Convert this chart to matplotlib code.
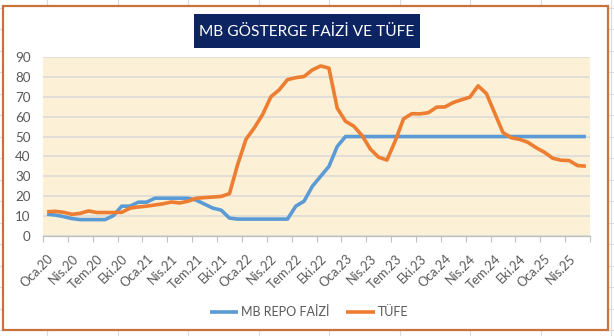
import numpy as np
import matplotlib.pyplot as plt
from matplotlib.patches import Rectangle
from matplotlib.lines import Line2D

plt.rcParams["font.family"] = ["Lato", "DejaVu Sans"]

# monthly series, Oca.20 .. Haz.25
repo = [11.0, 10.5, 9.75, 8.75, 8.25, 8.25, 8.25, 8.25, 10.25, 15.0, 15.0, 17.0,
        17.0, 19.0, 19.0, 19.0, 19.0, 19.0, 18.0, 16.0, 14.0, 13.0, 9.0, 8.5,
        8.5, 8.5, 8.5, 8.5, 8.5, 8.5, 15.0, 17.5, 25.0, 30.0, 35.0, 45.0,
        50.0, 50.0, 50.0, 50.0, 50.0, 50.0, 50.0, 50.0, 50.0, 50.0, 50.0, 50.0,
        50.0, 50.0, 50.0, 50.0, 50.0, 50.0, 50.0, 50.0, 50.0, 50.0, 50.0, 50.0,
        50.0, 50.0, 50.0, 50.0, 50.0, 50.0]
tufe = [12.2, 12.4, 11.9, 10.9, 11.4, 12.6, 11.8, 11.8, 11.8, 11.9, 14.0, 14.6,
        15.0, 15.6, 16.2, 17.1, 16.6, 17.5, 19.0, 19.3, 19.6, 19.9, 21.3, 36.1,
        48.7, 54.4, 61.1, 70.0, 73.5, 78.6, 79.6, 80.2, 83.5, 85.5, 84.4, 64.3,
        57.7, 55.2, 50.5, 43.7, 39.6, 38.2, 47.8, 58.9, 61.5, 61.4, 62.0, 64.8,
        64.9, 67.1, 68.5, 69.8, 75.5, 71.6, 61.8, 52.0, 49.4, 48.6, 47.1, 44.4,
        42.1, 39.1, 38.1, 37.9, 35.4, 35.1]
tick_labels = ["Oca.20", "Nis.20", "Tem.20", "Eki.20", "Oca.21", "Nis.21",
               "Tem.21", "Eki.21", "Oca.22", "Nis.22", "Tem.22", "Eki.22",
               "Oca.23", "Nis.23", "Tem.23", "Eki.23", "Oca.24", "Nis.24",
               "Tem.24", "Eki.24", "Oca.25", "Nis.25"]
y_ticks = list(range(0, 100, 10))

W, H = 614, 336
fig = plt.figure(figsize=(W / 100, H / 100), dpi=100)
fig.patch.set_facecolor("white")


def px(x, y):
    return x / W, 1 - y / H


# worksheet cell lines behind the chart object
for k in range(9):
    xx = (47 + 70.5 * k) / W
    fig.add_artist(Line2D([xx, xx], [0, 1], transform=fig.transFigure,
                          color="#dcdcdc", lw=0.8, zorder=0))
for k in range(-3, 13):
    yy = 1 - (72 + 21.5 * k) / H
    fig.add_artist(Line2D([0, 1], [yy, yy], transform=fig.transFigure,
                          color="#dcdcdc", lw=0.8, zorder=0))

# chart object frame
x0, y0 = px(3, 330)
x1, y1 = px(608, 6)
fig.add_artist(Rectangle((x0, y0), x1 - x0, y1 - y0, transform=fig.transFigure,
                         facecolor="white", edgecolor="#c8733e", lw=1.6, zorder=1))

# title box
bx, by = px(194, 48)
bx2, by2 = px(420, 14)
fig.add_artist(Rectangle((bx, by), bx2 - bx, by2 - by, transform=fig.transFigure,
                         facecolor="#0c2461", edgecolor="none", zorder=2))
tx, ty = px(307, 31.5)
fig.text(tx, ty, "MB GÖSTERGE FAİZİ VE TÜFE", color="white", fontsize=11.2,
         ha="center", va="center", zorder=3)

l, b = px(43, 236)
r, t = px(590, 57)
ax = fig.add_axes([l, b, r - l, t - b])
ax.set_zorder(3)
ax.set_facecolor("#fcf0d7")

x = np.arange(len(repo))
ax.plot(x, repo, color="#5b9bd5", lw=2.6, label="MB REPO FAİZİ",
        solid_joinstyle="round", solid_capstyle="butt", zorder=3)
ax.plot(x, tufe, color="#ed7d31", lw=2.6, label="TÜFE",
        solid_joinstyle="round", solid_capstyle="butt", zorder=4)

ax.set_xlim(-0.5, len(repo) - 0.5)
ax.set_ylim(0, 90)
ax.set_yticks(y_ticks)
ax.grid(axis="y", color="#d9d9d9", lw=1.1)
ax.set_axisbelow(True)

ax.set_xticks(np.arange(0, len(repo), 3))
ax.set_xticklabels(tick_labels, rotation=45, ha="right", va="top",
                   rotation_mode="anchor")
ax.set_xticks(np.arange(-0.5, len(repo), 3), minor=True)
ax.tick_params(axis="x", which="major", length=0, pad=12, labelsize=9.2,
               labelcolor="#595959")
ax.tick_params(axis="x", which="minor", length=4, width=0.8, color="#bfbfbf")
ax.tick_params(axis="y", length=0, pad=9, labelsize=9.6, labelcolor="#595959")

for side in ["left", "right", "top"]:
    ax.spines[side].set_visible(False)
ax.spines["bottom"].set_color("#bfbfbf")
ax.spines["bottom"].set_linewidth(0.9)

lx, ly = px(309, 312)
fig.legend(loc="center", bbox_to_anchor=(lx, ly), ncol=2, frameon=False,
           fontsize=9, handlelength=2.3, handletextpad=0.25, columnspacing=1.3,
           labelcolor="#595959")

fig.savefig("out.png", dpi=100, facecolor="white")
